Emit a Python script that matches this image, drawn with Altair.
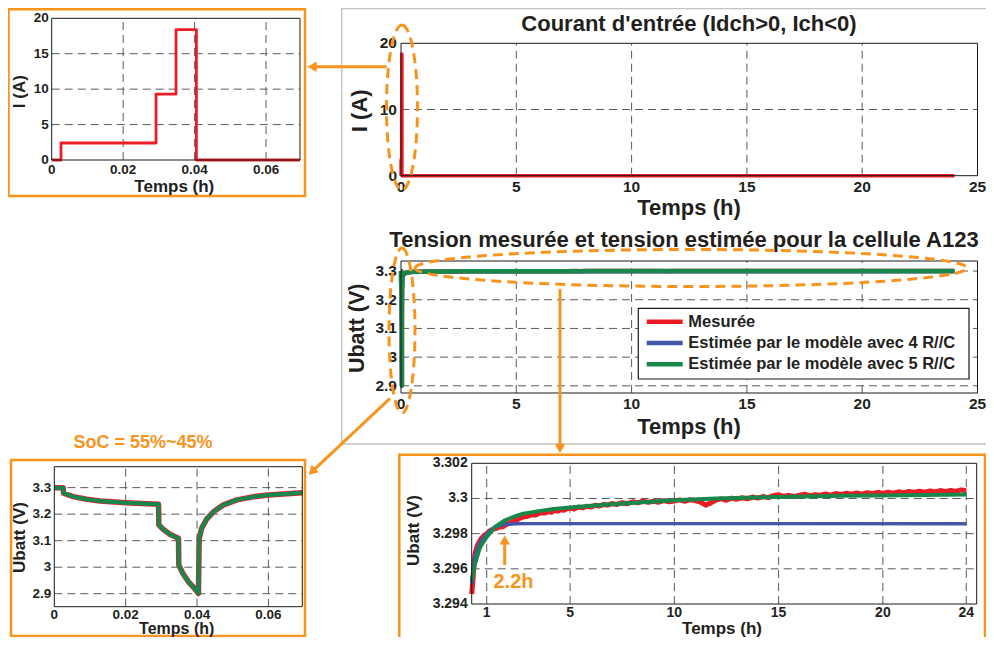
import altair as alt
import pandas as pd

# ---------------- data ----------------
# Input current (h, A)
cur_t = [0, 0.0026, 0.0026, 0.0292, 0.0292, 0.0348, 0.0348, 0.0405, 0.0405, 0.0695, 24]
cur_i = [0, 0, 2.4, 2.4, 9.3, 9.3, 18.4, 18.4, 0, 0, 0]

# Voltage during the pulse test (0 - 0.07 h), the three curves coincide
early_t = [0, 0.0025, 0.0026, 0.0053, 0.0091, 0.0128, 0.02, 0.0261, 0.0292, 0.0293,
           0.0305, 0.0324, 0.0348, 0.0349, 0.036, 0.0376, 0.0393, 0.0404, 0.0406,
           0.0413, 0.0427, 0.0446, 0.0474, 0.0512, 0.0559, 0.06, 0.0652, 0.0695]
early_v = [3.300, 3.300, 3.279, 3.266, 3.256, 3.250, 3.2434, 3.2396, 3.2374, 3.159,
           3.143, 3.124, 3.109, 3.008, 2.977, 2.945, 2.920, 2.901, 3.108,
           3.147, 3.181, 3.209, 3.235, 3.254, 3.266, 3.272, 3.277, 3.281]
mid_t = [0.1, 0.15, 0.2, 0.25]
mid_v = [3.2862, 3.2905, 3.2928, 3.2940]

# Relaxation (0.28 - 24 h)
red_t = [0.28, 0.32, 0.36, 0.40, 0.44, 0.50, 0.56, 0.62, 0.68, 0.76, 0.85, 0.92, 1.00, 1.10,
         1.20, 1.30, 1.40, 1.52, 1.65, 1.76, 1.88, 2.00, 2.12, 2.24, 2.36, 2.48, 2.60, 2.76,
         2.90, 3.05, 3.20, 3.35, 3.50, 3.65, 3.80, 3.95, 4.10, 4.25, 4.40, 4.55, 4.70, 4.85,
         5.00, 5.20, 5.40, 5.60, 5.80, 6.00, 6.20, 6.40, 6.60, 6.80, 7.00, 7.25, 7.50, 7.75,
         8.00, 8.25, 8.50, 8.75, 9.00, 9.25, 9.50, 9.75, 10.00, 10.25, 10.50, 10.75, 11.00,
         11.25, 11.50, 11.75, 12.00, 12.25, 12.50, 12.75, 13.00, 13.25, 13.50, 13.75, 14.00,
         14.25, 14.50, 14.75, 15.00, 15.25, 15.50, 15.75, 16.00, 16.25, 16.50, 16.75, 17.00,
         17.25, 17.50, 17.75, 18.00, 18.25, 18.50, 18.75, 19.00, 19.25, 19.50, 19.75, 20.00,
         20.25, 20.50, 20.75, 21.00, 21.25, 21.50, 21.75, 22.00, 22.25, 22.50, 22.75, 23.00,
         23.25, 23.50, 23.75, 24.00]
red_v = [3.29457, 3.29510, 3.29572, 3.29640, 3.29686, 3.29712, 3.29735, 3.29748, 3.29762,
         3.29775, 3.29788, 3.29793, 3.29800, 3.29812, 3.29820, 3.29824, 3.29829, 3.29832,
         3.29840, 3.29838, 3.29847, 3.29855, 3.29861, 3.29866, 3.29876, 3.29880, 3.29888,
         3.29895, 3.29897, 3.29902, 3.29908, 3.29906, 3.29915, 3.29919, 3.29917, 3.29926,
         3.29922, 3.29931, 3.29928, 3.29936, 3.29933, 3.29942, 3.29945, 3.29940, 3.29951,
         3.29947, 3.29956, 3.29952, 3.29961, 3.29957, 3.29966, 3.29962, 3.29971, 3.29966,
         3.29976, 3.29970, 3.29981, 3.29975, 3.29985, 3.29978, 3.29984, 3.29979, 3.29988,
         3.29981, 3.29986, 3.29992, 3.29984, 3.29993, 3.29988, 3.29979, 3.29962, 3.29975,
         3.29991, 3.29998, 3.29990, 3.30002, 3.29996, 3.30004, 3.29998, 3.30008, 3.30002,
         3.30011, 3.30005, 3.30016, 3.30021, 3.30012, 3.30018, 3.30010, 3.30019, 3.30024,
         3.30015, 3.30022, 3.30017, 3.30026, 3.30019, 3.30028, 3.30022, 3.30030, 3.30024,
         3.30031, 3.30025, 3.30033, 3.30027, 3.30035, 3.30029, 3.30036, 3.30030, 3.30038,
         3.30032, 3.30040, 3.30034, 3.30041, 3.30036, 3.30043, 3.30037, 3.30045, 3.30039,
         3.30046, 3.30040, 3.30049, 3.30044]
blue_t = [0.28, 0.44, 0.68, 1.0, 1.4, 1.88, 2.4, 3.0, 24]
blue_v = [3.29514, 3.29676, 3.29752, 3.29800, 3.29838, 3.29853, 3.29856, 3.29857, 3.29857]
green_t = [0.28, 0.44, 0.68, 1.0, 1.4, 1.88, 2.36, 2.76, 3.5, 4.2, 5, 6, 7, 8.5, 10, 12,
           15, 18, 21, 24]
green_v = [3.29533, 3.29629, 3.29723, 3.29781, 3.29838, 3.29876, 3.29899, 3.29914,
           3.29928, 3.29940, 3.29949, 3.29959, 3.29967, 3.29978, 3.29990, 3.30000,
           3.30009, 3.30015, 3.30019, 3.30023]

legend_labels = ["Mesurée", "Estimée par le modèle avec 4 R//C",
                 "Estimée par le modèle avec 5 R//C"]

# tick lists
tA_x = [0, 0.02, 0.04, 0.06]
tA_y = [0, 5, 10, 15, 20]
tB_x = [0, 5, 10, 15, 20, 25]
tB_y = [0, 10, 20]
tC_y = [2.9, 3.0, 3.1, 3.2, 3.3]
tE_x = [1, 5, 10, 15, 20, 24]
tE_y = [3.294, 3.296, 3.298, 3.3, 3.302]

title_top = "Courant d'entrée (Idch>0, Ich<0)"
title_mid = "Tension mesurée et tension estimée pour la cellule A123"
x_title = "Temps (h)"
i_title = "I (A)"
u_title = "Ubatt (V)"
soc_text = "SoC = 55%~45%"
mark_text = "2.2h"

# ---------------- styles ----------------
RED = "#ED1C24"
BLUE = "#4257A8"
GREEN = "#17874A"
ORANGE = "#F7941D"
GRID = "#5A5A5A"
TXT = "#231F20"
FONT = "Liberation Sans"


def frame(t, v):
    d = pd.DataFrame({"t": t, "v": v})
    d["i"] = range(len(d))
    return d


cur_df = frame(cur_t, cur_i)
curA_df = cur_df[cur_df.t <= 0.0695]
early_df = frame(early_t, early_v)
red_df = frame(early_t + mid_t + red_t, early_v + mid_v + red_v)
blue_df = frame(early_t + mid_t + blue_t, early_v + mid_v + blue_v)
green_df = frame(early_t + mid_t + green_t, early_v + mid_v + green_v)
redE = red_df[red_df.t >= 0.28]
blueE = blue_df[blue_df.t >= 0.28]
greenE = green_df[green_df.t >= 0.28]

one = pd.DataFrame({"a": [0]})


def label(text, x, y, size, color=TXT, align="center", angle=0, baseline="alphabetic"):
    return alt.Chart(one).mark_text(text=text, font=FONT, fontSize=size, fontWeight="bold",
                                    color=color, align=align, baseline=baseline,
                                    angle=angle).encode(x=alt.value(x), y=alt.value(y))


def panel(series, xdom, ydom, xr, yr, xgrid, ygrid, xticks, yticks, lsize,
          xt, yt, lpad=4, xlpad=None):
    """xt/yt: positions and sizes of the axis titles."""
    if xlpad is None:
        xlpad = lpad
    xs = alt.Scale(domain=xdom, range=xr, nice=False, zero=False)
    ys = alt.Scale(domain=ydom, range=yr, nice=False, zero=False)
    X = lambda f: alt.X(f, scale=xs, axis=None)
    Y = lambda f: alt.Y(f, scale=ys, axis=None)
    layers = []
    gv = pd.DataFrame({"g": xgrid, "y0": [ydom[0]] * len(xgrid), "y1": [ydom[1]] * len(xgrid)})
    gh = pd.DataFrame({"g": ygrid, "x0": [xdom[0]] * len(ygrid), "x1": [xdom[1]] * len(ygrid)})
    layers.append(alt.Chart(gv).mark_rule(color=GRID, strokeWidth=1, strokeDash=[8, 5]).encode(
        x=X("g:Q"), y=Y("y0:Q"), y2="y1:Q"))
    layers.append(alt.Chart(gh).mark_rule(color=GRID, strokeWidth=1, strokeDash=[8, 5]).encode(
        y=Y("g:Q"), x=X("x0:Q"), x2="x1:Q"))
    for df, color, w in series:
        layers.append(alt.Chart(df).mark_line(color=color, strokeWidth=w, strokeJoin="round").encode(
            x=X("t:Q"), y=Y("v:Q"), order="i:Q"))
    box = pd.DataFrame({"x0": [xdom[0]], "x1": [xdom[1]], "y0": [ydom[0]], "y1": [ydom[1]]})
    layers.append(alt.Chart(box).mark_rect(fillOpacity=0, stroke="#1a1a1a", strokeWidth=1).encode(
        x=X("x0:Q"), x2="x1:Q", y=Y("y0:Q"), y2="y1:Q"))
    # tick labels, positioned through the panel scales
    xl = pd.DataFrame({"g": xticks, "lab": ["{:g}".format(v) for v in xticks],
                       "y0": [ydom[0]] * len(xticks)})
    yl = pd.DataFrame({"g": yticks, "lab": ["{:g}".format(v) for v in yticks],
                       "x0": [xdom[0]] * len(yticks)})
    layers.append(alt.Chart(xl).mark_text(font=FONT, fontSize=lsize, fontWeight="bold", color=TXT,
                                          align="center", baseline="top", dy=xlpad).encode(
        x=X("g:Q"), y=Y("y0:Q"), text="lab:N"))
    layers.append(alt.Chart(yl).mark_text(font=FONT, fontSize=lsize, fontWeight="bold", color=TXT,
                                          align="right", baseline="middle", dx=-lpad).encode(
        y=Y("g:Q"), x=X("x0:Q"), text="lab:N"))
    layers.append(label(x_title, xt[0], xt[1], xt[2]))
    layers.append(label(yt[3], yt[0], yt[1], yt[2], angle=270, baseline="middle"))
    return alt.layer(*layers)


RIGHT = 969.5  # right edge of the two main panels

pA = panel([(curA_df, RED, 2.8)], [0, 0.0695], [0, 20], [43.7, 292], [152, 10.3],
           [0.02, 0.04, 0.06], [5, 10, 15], tA_x, tA_y, 13.5,
           (166.3, 183.7, 17), (12, 83.7, 17, i_title), 3)

pB = panel([(cur_df, RED, 3.5)], [0, 25], [0, 20], [393, RIGHT], [167.7, 35.3],
           [5, 10, 15, 20], [10], tB_x, tB_y, 15.5,
           (681, 207, 22), (352, 102.8, 22, i_title))

pC = panel([(red_df, RED, 4.5), (blue_df, BLUE, 4), (green_df, GREEN, 4.5)],
           [0, 25], [2.875, 3.335], [393, RIGHT], [385, 253],
           [5, 10, 15, 20], tC_y, tB_x, tC_y, 15.5,
           (681, 426.3, 22), (350, 320.3, 21.5, u_title))

pD = panel([(early_df, RED, 5.5), (early_df, BLUE, 3.5), (early_df, GREEN, 4)],
           [0, 0.0695], [2.851, 3.379], [46.3, 294.3], [598.7, 458.7],
           [0.02, 0.04, 0.06], tC_y, tA_x, tC_y, 13.5,
           (168.7, 626, 16), (12, 529.5, 17, u_title), 3, 1)

pE = panel([(redE, RED, 5), (blueE, BLUE, 3.5), (greenE, GREEN, 4)],
           [0.28, 24.5], [3.294, 3.302], [463.7, 968.7], [596, 455.3],
           tE_x, [3.296, 3.298, 3.3], tE_x, tE_y, 14,
           (714, 626, 17), (406, 522.5, 17, u_title), 4, 2)


def rect_outline(x, x2, y, y2, color, w):
    return alt.Chart(one).mark_rect(fillOpacity=0, stroke=color, strokeWidth=w).encode(
        x=alt.value(x), x2=alt.value(x2), y=alt.value(y), y2=alt.value(y2))


def seg(x, y, x2, y2, w=3):
    return alt.Chart(one).mark_rule(color=ORANGE, strokeWidth=w).encode(
        x=alt.value(x), y=alt.value(y), x2=alt.value(x2), y2=alt.value(y2))


def head(x, y, shape, angle=0, size=110):
    return alt.Chart(one).mark_point(shape=shape, filled=True, size=size, color=ORANGE,
                                     opacity=1, angle=angle).encode(x=alt.value(x), y=alt.value(y))


def ellipse(cx, cy, w, h):
    if h > w:
        r = w / h
        path = f"M 0 -1 A {r:.4f} 1 0 1 1 0 1 A {r:.4f} 1 0 1 1 0 -1"
        size = h * h
    else:
        r = h / w
        path = f"M -1 0 A 1 {r:.4f} 0 1 1 1 0 A 1 {r:.4f} 0 1 1 -1 0"
        size = w * w
    return alt.Chart(one).mark_point(shape=path, size=size, filled=False, color=ORANGE,
                                     strokeWidth=3, strokeDash=[10, 6], opacity=1).encode(
        x=alt.value(cx), y=alt.value(cy))


# legend built from the legend arrays
leg_df = pd.DataFrame({"label": legend_labels, "color": [RED, BLUE, GREEN], "row": [0, 1, 2]})
leg_scale = alt.Scale(domain=[0, 2], range=[313.7, 356.3], nice=False, zero=False)
legend = alt.layer(
    alt.Chart(one).mark_rect(fill="white", stroke="#1a1a1a", strokeWidth=1.2).encode(
        x=alt.value(630.3), x2=alt.value(961), y=alt.value(300.3), y2=alt.value(371)),
    alt.Chart(leg_df).mark_rule(strokeWidth=4.5).encode(
        x=alt.value(638.7), x2=alt.value(674.7),
        y=alt.Y("row:Q", scale=leg_scale, axis=None),
        color=alt.Color("color:N", scale=None)),
    alt.Chart(leg_df).mark_text(font=FONT, fontSize=16.5, fontWeight="bold", color=TXT,
                                align="left", baseline="middle").encode(
        x=alt.value(680.3), y=alt.Y("row:Q", scale=leg_scale, axis=None), text="label:N"),
)

chart = alt.layer(
    rect_outline(333.7, 1000, 0.5, 436, "#C4C4C4", 1.5),
    rect_outline(0.5, 297, 1.3, 188, ORANGE, 2.5),
    rect_outline(3, 297, 452, 628, ORANGE, 2.5),
    rect_outline(391.3, 977, 446.7, 660, ORANGE, 2.5),
    pA, pB, pC, pD, pE,
    legend,
    label(title_top, 681, 22.7, 22),
    label(title_mid, 676, 238.7, 22),
    label(soc_text, 135, 440, 18, ORANGE),
    label(mark_text, 505.5, 580, 20, ORANGE),
    ellipse(394, 99.5, 31, 165),
    ellipse(394, 322.5, 26, 165),
    ellipse(683, 260, 552, 37),
    seg(378.7, 58.7, 306, 58.7),
    head(304, 58.7, "triangle-left"),
    seg(382, 390.3, 304, 463.6),
    head(304, 463.6, "triangle-up", 226.8),
    seg(552, 281, 552, 440),
    head(552, 440.5, "triangle-down"),
    seg(496.7, 557, 496.7, 532),
    head(496.7, 532, "triangle-up"),
).resolve_scale(x="independent", y="independent").properties(
    width=978, height=629, padding=0, background="white",
    autosize=alt.AutoSizeParams(type="none"),
).configure_view(strokeWidth=0)

chart.save("out.html", embed_options={"renderer": "svg", "actions": False})
